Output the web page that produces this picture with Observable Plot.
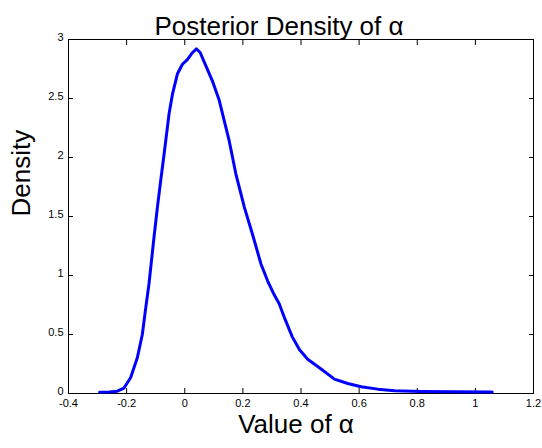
<!DOCTYPE html>
<html>
<head>
<meta charset="utf-8">
<script src="https://cdn.jsdelivr.net/npm/d3@7"></script>
<script src="https://cdn.jsdelivr.net/npm/@observablehq/plot@0.6"></script>
<style>
  html, body { margin: 0; padding: 0; background: #fff; }
  #chart { width: 542px; height: 448px; }
</style>
</head>
<body>
<div id="chart"></div>
<script>
const titleText = "Posterior Density of α";
const xLabel = "Value of α";
const yLabel = "Density";

const xTicks = [-0.4, -0.2, 0, 0.2, 0.4, 0.6, 0.8, 1, 1.2];
const yTicks = [0, 0.5, 1, 1.5, 2, 2.5, 3];

const alphaValues = [-0.293, -0.26, -0.232, -0.209, -0.186, -0.163, -0.146, -0.134, -0.123, -0.106, -0.094, -0.083, -0.071, -0.054, -0.042, -0.025, -0.008, 0.009, 0.027, 0.040, 0.053, 0.072, 0.095, 0.118, 0.136, 0.153, 0.176, 0.205, 0.233, 0.262, 0.285, 0.305, 0.325, 0.345, 0.37, 0.395, 0.423, 0.469, 0.515, 0.561, 0.607, 0.664, 0.722, 0.814, 0.929, 1.058];
const densityValues = [0.01, 0.012, 0.02, 0.046, 0.136, 0.305, 0.50, 0.73, 0.93, 1.32, 1.58, 1.80, 2.03, 2.37, 2.54, 2.71, 2.79, 2.83, 2.89, 2.92, 2.89, 2.78, 2.65, 2.49, 2.31, 2.14, 1.86, 1.58, 1.35, 1.10, 0.955, 0.85, 0.76, 0.63, 0.48, 0.37, 0.29, 0.207, 0.122, 0.085, 0.057, 0.037, 0.023, 0.017, 0.014, 0.012];

const data = alphaValues.map((a, i) => ({alpha: a, density: densityValues[i]}));
const fmt = d => String(d);
const blank = () => "";
const font = "Helvetica, Arial, 'Liberation Sans', sans-serif";

const chart = Plot.plot({
  width: 542,
  height: 448,
  marginTop: 39,
  marginRight: 9,
  marginBottom: 55,
  marginLeft: 68,
  style: {fontFamily: font, fontSize: "11px", color: "#000", background: "#fff"},
  x: {domain: [-0.4, 1.2], label: null},
  y: {domain: [0, 3], label: null},
  marks: [
    Plot.frame({stroke: "#000", strokeWidth: 1}),
    Plot.axisX(xTicks, {anchor: "bottom", tickSize: 0, tickPadding: 6, tickFormat: fmt, label: null, fontSize: 11}),
    Plot.axisX(xTicks, {anchor: "bottom", tickSize: -5, tickFormat: blank, label: null}),
    Plot.axisX(xTicks, {anchor: "top", tickSize: -5, tickFormat: blank, label: null}),
    Plot.axisY(yTicks, {anchor: "left", tickSize: 0, tickPadding: 5, dy: -2, tickFormat: fmt, label: null, fontSize: 11}),
    Plot.axisY(yTicks, {anchor: "left", tickSize: -5, tickFormat: blank, label: null}),
    Plot.axisY(yTicks, {anchor: "right", tickSize: -5, tickFormat: blank, label: null}),
    Plot.line(data, {x: "alpha", y: "density", stroke: "#0000ff", strokeWidth: 3, strokeLinejoin: "round", strokeLinecap: "round"}),
    Plot.text([titleText], {frameAnchor: "top", dy: -23, dx: -22, fontSize: 26, fill: "#000"}),
    Plot.text([xLabel], {frameAnchor: "bottom", dy: 39, dx: -5, fontSize: 26, fill: "#000"}),
    Plot.text([yLabel], {frameAnchor: "left", dx: -47, rotate: -90, fontSize: 26, fill: "#000"})
  ]
});
document.getElementById("chart").appendChild(chart);
</script>
</body>
</html>
